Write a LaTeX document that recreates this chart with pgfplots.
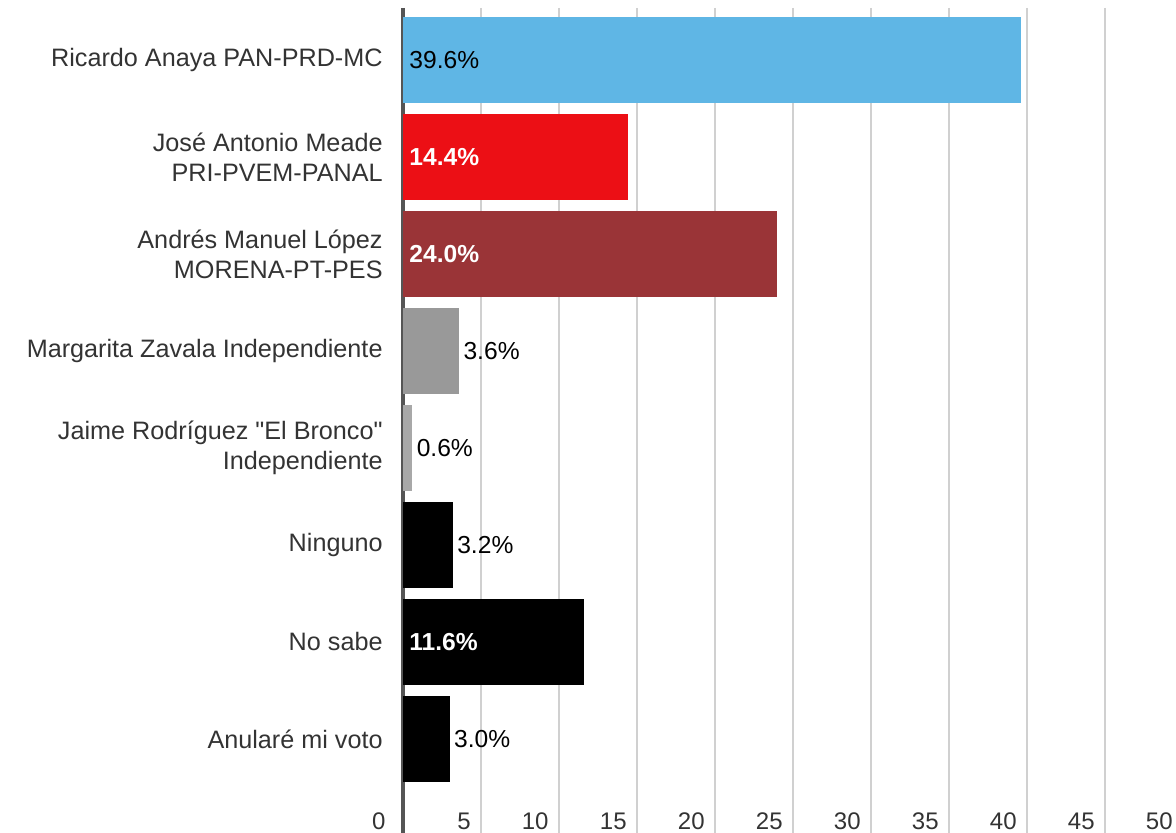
\documentclass[border=0pt]{standalone}
\usepackage{pgfplots}
\pgfplotsset{compat=1.18}
\usepackage{fontspec}
\setmainfont{Liberation Sans}

\definecolor{anaya}{HTML}{5FB6E5}
\definecolor{meade}{HTML}{EC0F15}
\definecolor{amlo}{HTML}{9A3437}
\definecolor{zavala}{HTML}{999999}
\definecolor{bronco}{HTML}{A8A8A8}
\definecolor{gridgray}{HTML}{D0D0D0}
\definecolor{axisgray}{HTML}{555555}
\definecolor{labeltext}{HTML}{333333}

\begin{document}
\begin{tikzpicture}
\begin{axis}[
  at={(0,0)}, anchor=south west,
  scale only axis, width=390pt, height=412.5pt,
  xmin=0, xmax=50, ymin=-0.535, ymax=7.969,
  y dir=reverse,
  axis line style={draw=none},
  major tick length=0pt,
  xtick={5,10,...,50},
  xmajorgrids,
  major grid style={draw=gridgray, line width=0.8pt},
  extra x ticks={0},
  extra x tick style={grid=major, major grid style={draw=axisgray, line width=2.4pt},
    xticklabel style={xshift=-3.5pt}},
  xticklabel style={anchor=base east, inner sep=0pt, xshift=-5pt, yshift=2pt,
    font=\fontsize{12}{14}\selectfont, text=labeltext},
  /pgf/number format/assume math mode=true,
  ytick={0,...,7},
  yticklabels={
    Ricardo Anaya PAN-PRD-MC,
    {José Antonio Meade\\PRI-PVEM-PANAL},
    {Andrés Manuel López\\MORENA-PT-PES},
    Margarita Zavala Independiente,
    {Jaime Rodríguez \textquotedbl El Bronco\textquotedbl\\Independiente},
    Ninguno,
    No sabe,
    Anularé mi voto},
  yticklabel style={align=right, anchor=east, inner sep=0pt, xshift=-10pt,
    font=\fontsize{12.6}{15}\selectfont, text=labeltext},
  clip=false,
]
% bars
\addplot[xbar, bar width=43pt, bar shift=0pt, fill=anaya, draw=none] coordinates {(39.6,0)};
\addplot[xbar, bar width=43pt, bar shift=0pt, fill=meade, draw=none] coordinates {(14.4,1)};
\addplot[xbar, bar width=43pt, bar shift=0pt, fill=amlo, draw=none] coordinates {(24.0,2)};
\addplot[xbar, bar width=43pt, bar shift=0pt, fill=zavala, draw=none] coordinates {(3.6,3)};
\addplot[xbar, bar width=43pt, bar shift=0pt, fill=bronco, draw=none] coordinates {(0.6,4)};
\addplot[xbar, bar width=43pt, bar shift=0pt, fill=black, draw=none] coordinates {(3.2,5)};
\addplot[xbar, bar width=43pt, bar shift=0pt, fill=black, draw=none] coordinates {(11.6,6)};
\addplot[xbar, bar width=43pt, bar shift=0pt, fill=black, draw=none] coordinates {(3.0,7)};
% labels inside the bars
\addplot[draw=none, mark=none, nodes near coords, point meta=explicit symbolic,
  nodes near coords style={anchor=west, inner sep=0pt, xshift=3pt,
    font=\fontsize{12.3}{14}\selectfont, text=black}]
  coordinates {(0,0) [39.6\%]};
\addplot[draw=none, mark=none, nodes near coords, point meta=explicit symbolic,
  nodes near coords style={anchor=west, inner sep=0pt, xshift=3pt,
    font=\fontsize{12.3}{14}\selectfont\bfseries, text=white}]
  coordinates {(0,1) [14.4\%] (0,2) [24.0\%] (0,6) [11.6\%]};
% labels after the small bars
\addplot[draw=none, mark=none, nodes near coords, point meta=explicit symbolic,
  nodes near coords style={anchor=west, inner sep=0pt, xshift=2pt,
    font=\fontsize{12.3}{14}\selectfont, text=black}]
  coordinates {(3.6,3) [3.6\%] (0.6,4) [0.6\%] (3.2,5) [3.2\%] (3.0,7) [3.0\%]};
\end{axis}
\pgfresetboundingbox
\path[use as bounding box] (-201.5pt,0pt) rectangle (386.5pt,416.5pt);
\end{tikzpicture}
\end{document}
